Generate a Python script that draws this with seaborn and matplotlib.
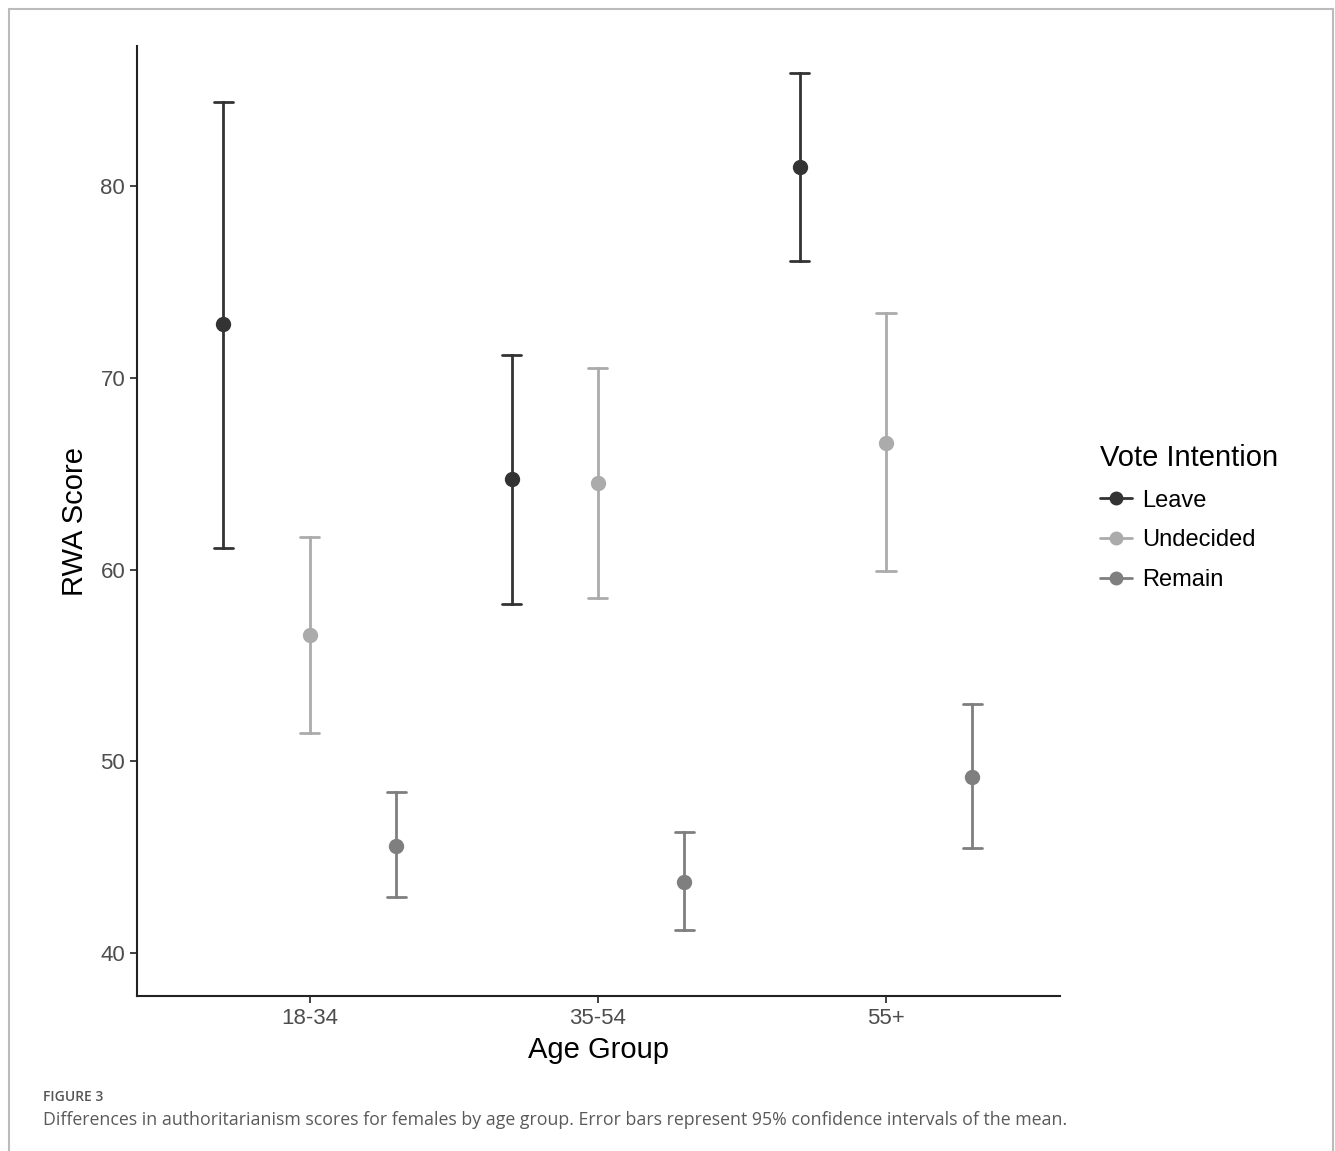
import numpy as np
import pandas as pd
import seaborn as sns
import matplotlib.pyplot as plt
from matplotlib.patches import Rectangle
from matplotlib.lines import Line2D

# ---- data ----
age_groups = ["18-34", "35-54", "55+"]
vote_groups = ["Leave", "Undecided", "Remain"]
leave_mean = [72.8, 64.7, 81.0]
leave_lo = [61.1, 58.2, 76.1]
leave_hi = [84.4, 71.2, 85.9]
undecided_mean = [56.6, 64.5, 66.6]
undecided_lo = [51.5, 58.5, 59.9]
undecided_hi = [61.7, 70.5, 73.4]
remain_mean = [45.6, 43.7, 49.2]
remain_lo = [42.9, 41.2, 45.5]
remain_hi = [48.4, 46.3, 53.0]

series = {
    "Leave": (leave_mean, leave_lo, leave_hi),
    "Undecided": (undecided_mean, undecided_lo, undecided_hi),
    "Remain": (remain_mean, remain_lo, remain_hi),
}
rows = []
for vote, (m, lo, hi) in series.items():
    for i, age in enumerate(age_groups):
        for v in (lo[i], m[i], hi[i]):
            rows.append({"Age Group": age, "Vote Intention": vote, "RWA Score": v})
df = pd.DataFrame(rows)

palette = {"Leave": "#333333", "Undecided": "#ababab", "Remain": "#7f7f7f"}

sns.set_theme(style="ticks")
plt.rcParams["font.family"] = ["Liberation Sans", "DejaVu Sans"]

fig = plt.figure(figsize=(13.35, 11.51), dpi=100)
ax = fig.add_axes([137/1335, 1 - 996/1151, (1060-137)/1335, (996-46)/1151])

sns.pointplot(data=df, x="Age Group", y="RWA Score", hue="Vote Intention",
              order=age_groups, hue_order=vote_groups, palette=palette,
              estimator="median", errorbar=("pi", 100), dodge=0.6,
              linestyle="none", markers="o", markersize=9,
              capsize=0.066, err_kws={"linewidth": 2.0}, ax=ax, legend=False)

ax.set_xlim(-0.6, 2.604)
ax.set_ylim(37.76, 87.3)
ax.set_yticks([40, 50, 60, 70, 80])
ax.set_xlabel("Age Group", fontsize=21, color="black", labelpad=5)
ax.set_ylabel("RWA Score", fontsize=21, color="black", labelpad=8)
ax.tick_params(axis="both", labelsize=16, labelcolor="#4d4d4d", color="#333333",
               length=5, width=1.3)
for s in ["left", "bottom"]:
    ax.spines[s].set_color("#222222")
    ax.spines[s].set_linewidth(1.5)
sns.despine(ax=ax)

handles = [Line2D([0], [0], color=palette[v], marker="o", markersize=9,
                  linewidth=2.0, label=v) for v in vote_groups]
leg = ax.legend(handles=handles, title="Vote Intention", frameon=False, fontsize=17,
                title_fontsize=21, loc="upper left",
                bbox_to_anchor=(1100/1335, 1 - 444/1151),
                bbox_transform=fig.transFigure, handlelength=1.35,
                labelspacing=0.75, handletextpad=0.45, borderaxespad=0,
                borderpad=0)
leg._legend_box.align = "left"
leg.get_title().set_color("black")
for t in leg.get_texts():
    t.set_color("black")

# caption and frame
fig.text(43/1335, 1 - 1097/1151, "FIGURE 3", fontsize=10, color="#555555",
         family=["Open Sans", "DejaVu Sans"], fontweight="semibold", va="center")
fig.text(43/1335, 1 - 1120/1151,
         "Differences in authoritarianism scores for females by age group. Error bars represent 95% confidence intervals of the mean.",
         fontsize=12.8, color="#5a5a5a", family=["Open Sans", "DejaVu Sans"], va="center")
fig.patches.append(Rectangle((9/1335, -0.02), (1333-9)/1335, 1 - 9/1151 + 0.02,
                             transform=fig.transFigure, fill=False,
                             edgecolor="#bbbbbb", linewidth=1.5))

fig.savefig("out.png", dpi=100)
